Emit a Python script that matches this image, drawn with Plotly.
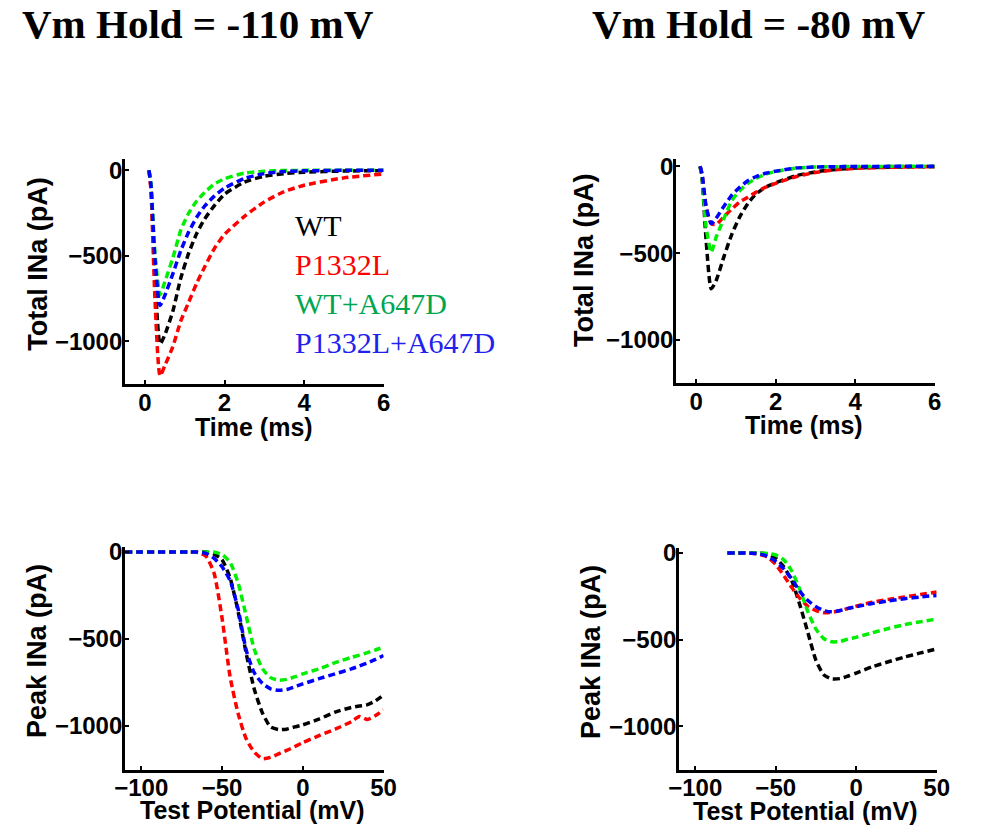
import plotly.graph_objects as go

# ---------------- data ----------------
series_names = ["WT", "P1332L", "WT+A647D", "P1332L+A647D"]
line_colors = ["#000000", "#ff0000", "#00ee00", "#0000ff"]
label_colors = ["#000000", "#ff0000", "#00a650", "#2222ee"]
titles = ["Vm Hold = -110 mV", "Vm Hold = -80 mV"]

# time courses (ms, pA)
time_ms = [0.1, 0.15, 0.25, 0.38, 0.5, 0.7, 0.9, 1.1, 1.3, 1.5, 1.75, 2.0, 2.5, 3.0, 3.5, 4.0, 5.0, 6.0]

h110_wt = [0, -100, -620, -1015, -960, -823, -630, -483, -370, -285, -205, -140, -70, -35, -20, -12, -5, -3]
h110_p1332l = [0, -120, -750, -1200, -1140, -1030, -880, -770, -660, -565, -455, -375, -270, -185, -125, -88, -45, -22]
h110_wt_a647d = [0, -85, -480, -727, -650, -513, -350, -250, -180, -130, -80, -50, -17, -6, -2, -1, 0, 0]
h110_p1332l_a647d = [0, -90, -520, -790, -730, -605, -470, -360, -275, -210, -150, -105, -48, -20, -8, -4, -1, 0]

h80_wt = [0, -70, -420, -705, -660, -520, -390, -290, -215, -160, -120, -95, -55, -32, -18, -10, -4, -2]
h80_p1332l = [0, -45, -230, -330, -335, -290, -245, -205, -178, -150, -120, -98, -60, -35, -20, -12, -5, -2]
h80_wt_a647d = [0, -60, -350, -495, -410, -300, -197, -140, -98, -70, -45, -30, -10, -4, -2, -1, 0, 0]
h80_p1332l_a647d = [0, -45, -230, -330, -300, -230, -165, -120, -83, -60, -40, -28, -10, -4, -2, -1, 0, 0]

# peak I-V (mV, pA), hold -110
v110 = [-110, -100, -90, -80, -70, -65, -60, -55, -50, -45, -40, -35, -30, -25, -20, -15, -10, -5, 0, 10, 20, 30, 35, 40, 45, 50]
iv110_wt = [0, 0, 0, 0, 0, 0, 0, -12, -45, -150, -345, -585, -790, -925, -1005, -1020, -1018, -1005, -993, -960, -920, -893, -885, -877, -855, -822]
iv110_p1332l = [0, 0, 0, 0, 0, -3, -25, -120, -380, -718, -930, -1075, -1150, -1187, -1180, -1160, -1140, -1118, -1095, -1055, -1018, -975, -945, -962, -940, -907]
iv110_wt_a647d = [0, 0, 0, 0, 0, 0, 0, 0, -15, -60, -180, -370, -560, -670, -722, -737, -732, -718, -700, -672, -636, -606, -593, -578, -563, -547]
iv110_p1332l_a647d = [0, 0, 0, 0, 0, 0, -8, -36, -85, -165, -330, -566, -695, -755, -786, -795, -790, -775, -758, -728, -700, -672, -655, -637, -617, -595]

# peak I-V (mV, pA), hold -80
v80 = [-80, -75, -70, -65, -60, -55, -50, -45, -40, -35, -30, -25, -20, -15, -10, -5, 0, 10, 20, 30, 40, 50]
iv80_wt = [0, 0, 0, 0, 0, -8, -30, -80, -161, -300, -460, -620, -704, -727, -725, -710, -693, -657, -628, -601, -577, -554]
iv80_p1332l = [0, 0, 0, -2, -8, -25, -67, -130, -200, -262, -308, -333, -345, -343, -333, -320, -307, -285, -268, -254, -240, -226]
iv80_wt_a647d = [0, 0, 0, 0, 0, -3, -12, -40, -105, -212, -340, -440, -495, -513, -511, -497, -487, -461, -436, -414, -397, -382]
iv80_p1332l_a647d = [0, 0, 0, -2, -6, -20, -49, -92, -150, -222, -275, -310, -333, -340, -332, -320, -310, -292, -277, -264, -254, -245]

panels = [
    ("x", "y", time_ms, [h110_wt, h110_p1332l, h110_wt_a647d, h110_p1332l_a647d]),
    ("x2", "y2", time_ms, [h80_wt, h80_p1332l, h80_wt_a647d, h80_p1332l_a647d]),
    ("x3", "y3", v110, [iv110_wt, iv110_p1332l, iv110_wt_a647d, iv110_p1332l_a647d]),
    ("x4", "y4", v80, [iv80_wt, iv80_p1332l, iv80_wt_a647d, iv80_p1332l_a647d]),
]

# ---------------- figure ----------------
OFF = 8  # default page body margin
W, H = 984 - OFF, 835 - OFF
fig = go.Figure()
for xa, ya, xs, ys_list in panels:
    for name, color, ys in zip(series_names, line_colors, ys_list):
        fig.add_trace(go.Scatter(
            x=xs, y=ys, mode="lines", name=name, showlegend=False,
            xaxis=xa, yaxis=ya,
            line=dict(color=color, width=3.5, dash="7px,4px", shape="spline", smoothing=0.6),
        ))

def fx(p):
    return (p - OFF) / W

def fy(p):
    return 1 - (p - OFF) / H

def px_x(a, b):
    return [fx(a), fx(b)]

def px_y(top, bottom):
    return [fy(bottom), fy(top)]

tick_font = dict(family="Liberation Sans, Arial, sans-serif", size=24, color="black", weight="bold")
axis_common = dict(showgrid=False, zeroline=False, showline=True, linecolor="black", linewidth=3,
                   ticks="inside", ticklen=4, tickwidth=2, tickcolor="black", tickfont=tick_font,
                   mirror=False)
xcommon = dict(axis_common, ticklabelstandoff=-5)
ycommon = dict(axis_common, ticklabelstandoff=-5)

fig.update_layout(
    width=W, height=H, margin=dict(l=0, r=0, t=0, b=0),
    paper_bgcolor="white", plot_bgcolor="white", showlegend=False,
    xaxis=dict(domain=px_x(125, 390), range=[-0.5, 6], tickvals=[0, 2, 4, 6], anchor="y", **xcommon),
    yaxis=dict(domain=px_y(160, 388), range=[-1250, 68], tickvals=[0, -500, -1000], anchor="x", **ycommon),
    xaxis2=dict(domain=px_x(690, 955), range=[-0.5, 6], tickvals=[0, 2, 4, 6], anchor="y2", **xcommon),
    yaxis2=dict(domain=px_y(160, 387), range=[-1250, 45], tickvals=[0, -500, -1000], anchor="x2", **ycommon),
    xaxis3=dict(domain=px_x(125, 390), range=[-110, 50], tickvals=[-100, -50, 0, 50], anchor="y3", **xcommon),
    yaxis3=dict(domain=px_y(552, 777), range=[-1250, 30], tickvals=[0, -500, -1000], anchor="x3", **ycommon),
    xaxis4=dict(domain=px_x(693, 957), range=[-110, 50], tickvals=[-100, -50, 0, 50], anchor="y4", **xcommon),
    yaxis4=dict(domain=px_y(553, 777), range=[-1250, 30], tickvals=[0, -500, -1000], anchor="x4", **ycommon),
)

title_font = dict(family="Liberation Serif, Times New Roman, serif", size=41, color="black", weight="bold")
xlabel_font = dict(family="Liberation Sans, Arial, sans-serif", size=25, color="black", weight="bold")
ylabel_font = dict(family="Liberation Sans, Arial, sans-serif", size=27, color="black", weight="bold")

annotations = []
for txt, cx in zip(titles, [200, 775]):
    annotations.append(dict(text=txt, x=fx(cx), y=fy(24), xref="paper", yref="paper",
                            xanchor="center", yanchor="middle", showarrow=False, font=title_font))

# axis titles
for txt, cx, cy in [("Time (ms)", 257, 431), ("Time (ms)", 821, 429),
                    ("Test Potential (mV)", 256, 818), ("Test Potential (mV)", 823, 819)]:
    annotations.append(dict(text=txt, x=fx(cx), y=fy(cy), xref="paper", yref="paper",
                            xanchor="center", yanchor="middle", showarrow=False, font=xlabel_font))
for txt, cx, cy in [("Total INa (pA)", 36, 267), ("Total INa (pA)", 595, 263),
                    ("Peak INa (pA)", 34, 657), ("Peak INa (pA)", 602, 658)]:
    annotations.append(dict(text=txt, x=fx(cx), y=fy(cy), xref="paper", yref="paper",
                            xanchor="center", yanchor="middle", showarrow=False, textangle=-90,
                            font=ylabel_font))

# legend text
legend_font_family = "Liberation Serif, Times New Roman, serif"
for i, (name, col) in enumerate(zip(series_names, label_colors)):
    annotations.append(dict(text=name, x=fx(297), y=fy(228 + 39.3 * i), xref="paper", yref="paper",
                            xanchor="left", yanchor="middle", showarrow=False,
                            font=dict(family=legend_font_family, size=30, color=col)))

fig.update_layout(annotations=annotations)
fig.write_html("out.html")
